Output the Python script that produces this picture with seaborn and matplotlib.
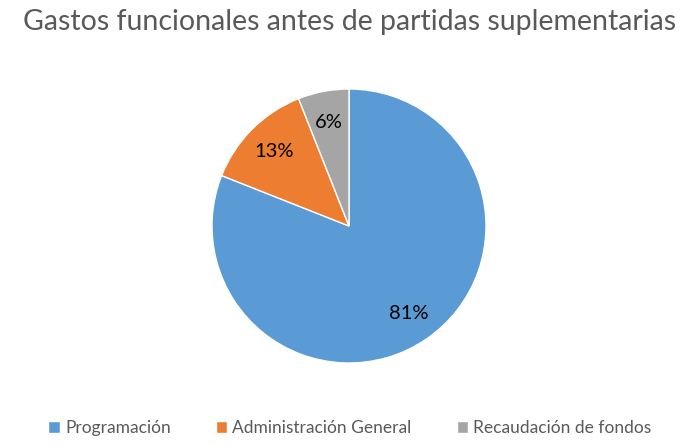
import matplotlib.pyplot as plt
import seaborn as sns

# datos del gráfico
categorias = ["Programación", "Administración General", "Recaudación de fondos"]
porcentajes = [81, 13, 6]
colores = ["#5B9BD5", "#ED7D31", "#A5A5A5"]
titulo = "Gastos funcionales antes de partidas suplementarias"

sns.set_theme(style="white")
plt.rcParams['font.family'] = ['Lato', 'DejaVu Sans']

fig = plt.figure(figsize=(7, 4.46), dpi=100)
ax = fig.add_axes([212 / 700, 83 / 446, 274 / 700, 274 / 446])

wedges, textos, autotextos = ax.pie(
    porcentajes,
    colors=colores,
    startangle=90,
    counterclock=False,
    autopct='%1.0f%%',
    pctdistance=0.77,
    radius=1,
    wedgeprops=dict(edgecolor="white", linewidth=1),
    textprops=dict(fontsize=14.5, color="black"),
)
ax.set_xlim(-1, 1)
ax.set_ylim(-1, 1)
ax.axis('off')

fig.text(0.5, 1 - 22 / 446, titulo, ha='center', va='center',
         fontsize=20.5, color="#595959")

fig.legend(wedges, categorias, loc='center', bbox_to_anchor=(0.5, 18 / 446),
           ncol=3, frameon=False, fontsize=12.5, labelcolor="#595959",
           handlelength=0.65, handleheight=0.65, handletextpad=0.3,
           columnspacing=2.6)

fig.savefig("out.png", dpi=100)
